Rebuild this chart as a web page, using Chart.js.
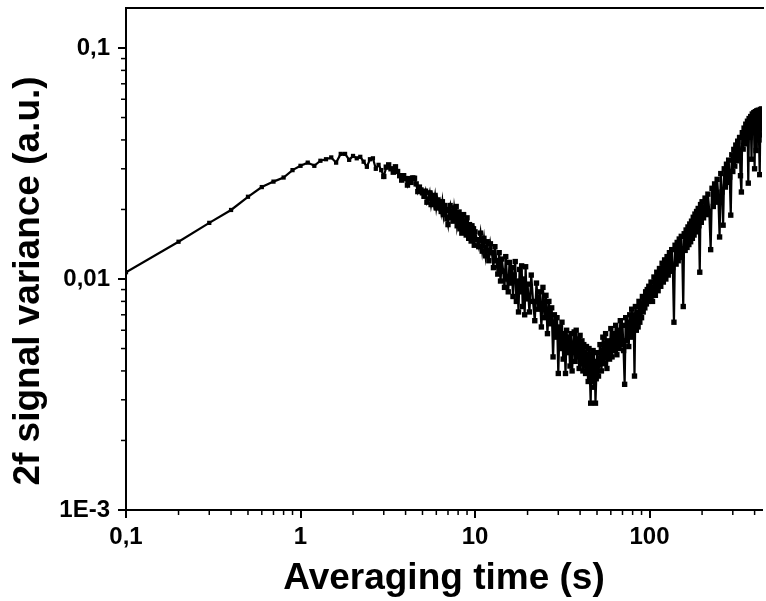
<!DOCTYPE html>
<html><head><meta charset="utf-8">
<script src="https://cdn.jsdelivr.net/npm/chart.js@4.4.1/dist/chart.umd.min.js"></script>
<style>html,body{margin:0;padding:0;background:#fff;overflow:hidden}#wrap{width:766px;height:601px;position:relative}</style>
</head><body><div id="wrap"><canvas id="c"></canvas></div>
<script>
const timeS = [
  0.1,0.2,0.3,0.4,0.5,0.6,0.7,0.8,0.9,1.0,1.1,1.2,1.3,1.4,1.5,1.6,1.7,1.8,1.9,2.0,
  2.1,2.2,2.3,2.4,2.5,2.6,2.7,2.8,2.9,3.0,3.1,3.2,3.3,3.4,3.5,3.6,3.7,3.8,3.9,4.0,
  4.1,4.2,4.3,4.4,4.5,4.6,4.7,4.8,4.9,5.0,
  5.1,5.2,5.3,5.4,5.5,5.6,5.7,5.8,5.9,6.0,6.1,6.2,6.3,6.4,6.5,6.6,6.7,6.8,6.9,7.0,
  7.1,7.2,7.3,7.4,7.5,7.6,7.7,7.8,7.9,8.0,8.1,8.2,8.3,8.4,8.5,8.6,8.7,8.8,8.9,9.0,
  9.1,9.2,9.3,9.4,9.5,9.6,9.7,9.8,9.9,10.0,
  10.25,10.5,10.75,11,11.25,11.5,11.75,12,12.25,12.5,12.75,13,13.25,13.5,13.75,14,
  14.25,14.5,14.75,15,15.25,15.5,15.75,16,16.25,16.5,16.75,17,17.25,17.5,17.75,18,
  18.25,18.5,18.75,19,19.25,19.5,19.75,20,
  20.5,21,21.5,22,22.5,23,23.5,24,24.5,25,25.5,26,26.5,27,27.5,28,28.5,29,29.5,30,
  30.5,31,31.5,32,32.5,33,33.5,34,34.5,35,35.5,36,36.5,37,37.5,38,38.5,39,39.5,40,
  40.5,41,41.5,42,42.5,43,43.5,44,44.5,45,45.5,46,46.5,47,47.5,48,48.5,49,49.5,50,
  51,52,53,54,55,56,57,58,59,60,61,62,63,64,65,66,67,68,69,70,
  71,72,73,74,75,76,77,78,79,80,81,82,83,84,85,86,87,88,89,90,
  91,92,93,94,95,96,97,98,99,100,
  102,104,106,108,110,112,114,116,118,120,122,124,126,128,130,132,134,136,138,140,
  142,144,146,148,150,152,154,156,158,160,162,164,166,168,170,172,174,176,178,180,
  182,184,186,188,190,192,194,196,198,200,
  204,208,212,216,220,224,228,232,236,240,244,248,252,256,260,264,268,272,276,280,
  284,288,292,296,300,304,308,312,316,320,324,328,332,336,340,344,348,352,356,360,
  364,368,372,376,380,384,388,392,396,400,404,408,412,416,420,424,428,432,436,440,
  444
];
const variance = [
  0.0107,0.0145,0.0175,0.0199,0.0227,0.0250,0.0264,0.0275,0.0296,0.0309,0.0319,0.0309,0.0325,0.0330,0.0336,0.0319,0.0348,0.0348,0.0328,0.0341,
  0.0333,0.0338,0.0322,0.0306,0.0330,0.0333,0.0300,0.0312,0.0296,0.0278,0.0305,0.0312,0.0300,0.0290,0.0306,0.0292,0.0280,0.0268,0.0280,0.0272,
  0.0255,0.0272,0.0262,0.0274,0.0273,0.0258,0.0239,0.0250,0.0243,0.0236,
  0.0228,0.0240,0.0215,0.0222,0.0236,0.0210,0.0228,0.0212,0.0230,0.0203,0.0220,0.0205,0.0215,0.0196,0.0216,0.0190,0.0208,0.0198,0.0182,0.0172,
  0.0200,0.0208,0.0185,0.0195,0.0178,0.0203,0.0188,0.0206,0.0170,0.0180,0.0195,0.0165,0.0185,0.0158,0.0176,0.0190,0.0162,0.0178,0.0155,0.0184,
  0.0168,0.0150,0.0172,0.0160,0.0146,0.0170,0.0152,0.0165,0.0140,0.0160,
  0.0148,0.0138,0.0158,0.0132,0.0150,0.0126,0.0145,0.0120,0.0142,0.0130,0.0112,0.0138,0.0120,0.0105,0.0130,0.0098,
  0.0122,0.0108,0.0092,0.0125,0.0100,0.0088,0.0118,0.0096,0.0112,0.0084,0.0104,0.0119,0.0080,0.0098,0.0072,0.0110,
  0.0088,0.0114,0.0076,0.0100,0.0070,0.0113,0.0082,0.0095,
  0.0072,0.0104,0.0080,0.0066,0.0096,0.0074,0.0088,0.0062,0.0092,0.0068,0.0085,0.0058,0.0080,0.0064,0.0075,0.0046,0.0070,0.0056,0.0068,0.0039,
  0.0062,0.0050,0.0065,0.0045,0.0058,0.0039,0.0060,0.0048,0.0056,0.0042,0.0058,0.0040,0.0052,0.0059,0.0044,0.0060,0.0046,0.0055,0.0041,0.0057,
  0.0043,0.0054,0.0040,0.0052,0.0045,0.0039,0.0051,0.0042,0.0036,0.0050,0.0038,0.0029,0.0047,0.0036,0.0049,0.0034,0.0044,0.0029,0.0037,0.0048,
  0.0038,0.0052,0.0040,0.0056,0.0043,0.0058,0.0041,0.0054,0.0045,0.0061,0.0046,0.0058,0.0049,0.0063,0.0047,0.0060,0.0050,0.0066,0.0052,0.0063,
  0.0049,0.0035,0.0068,0.0054,0.0065,0.0051,0.0070,0.0056,0.0074,0.0058,0.0070,0.0038,0.0076,0.0060,0.0072,0.0062,0.0080,0.0065,0.0078,0.0068,
  0.0084,0.0072,0.0082,0.0075,0.0088,0.0078,0.0090,0.0080,0.0093,0.0084,
  0.0097,0.0080,0.0102,0.0085,0.0107,0.0089,0.0111,0.0093,0.0117,0.0097,0.0121,0.0100,0.0125,0.0104,0.0130,0.0108,0.0134,0.0112,0.0065,0.0140,
  0.0116,0.0144,0.0120,0.0149,0.0124,0.0153,0.0128,0.0076,0.0157,0.0133,0.0163,0.0137,0.0168,0.0141,0.0173,0.0145,0.0178,0.0150,0.0185,0.0155,
  0.0191,0.0160,0.0196,0.0165,0.0202,0.0170,0.0107,0.0210,0.0176,0.0216,
  0.0184,0.0224,0.0190,0.0233,0.0196,0.0134,0.0247,0.0206,0.0258,0.0215,0.0270,0.0225,0.0152,0.0286,0.0238,0.0171,0.0300,0.0250,0.0314,0.0262,
  0.0327,0.0276,0.0189,0.0345,0.0292,0.0364,0.0308,0.0380,0.0325,0.0395,0.0340,0.0410,0.0280,0.0238,0.0430,0.0365,0.0450,0.0385,0.0468,0.0400,
  0.0482,0.0260,0.0495,0.0410,0.0505,0.0330,0.0518,0.0430,0.0525,0.0300,0.0530,0.0360,0.0535,0.0440,0.0538,0.0400,0.0283,0.0542,0.0460,0.0545,
  0.0420
];
const xTickValues = [0.1, 1, 10, 100];
const xTickLabels = ['0,1', '1', '10', '100'];
const yTickValues = [0.001, 0.01, 0.1];
const yTickLabels = ['1E-3', '0,01', '0,1'];
const xTitle = 'Averaging time (s)';
const yTitle = '2f signal variance (a.u.)';

const FAMILY = '"Liberation Sans", Arial, Helvetica, sans-serif';
const n = Math.min(timeS.length, variance.length);
const points = [];
for (let i = 0; i < n; i++) points.push({x: timeS[i], y: variance[i]});

function minorValues(lo, hi) {
  const out = [];
  for (let e = Math.floor(Math.log10(lo)); e <= Math.ceil(Math.log10(hi)); e++) {
    for (let m = 2; m <= 9; m++) {
      const v = m * Math.pow(10, e);
      if (v > lo && v < hi) out.push(v);
    }
  }
  return out;
}

const framePlugin = {
  id: 'frame',
  afterDraw(chart) {
    const {ctx, chartArea: a, scales: {x, y}} = chart;
    ctx.save();
    ctx.strokeStyle = '#000';
    ctx.lineWidth = 2;
    ctx.beginPath(); ctx.moveTo(a.left, a.top); ctx.lineTo(a.right + 2, a.top); ctx.stroke();
    ctx.lineWidth = 1.5;
    for (const v of minorValues(x.min, x.max)) {
      const p = x.getPixelForValue(v);
      ctx.beginPath(); ctx.moveTo(p, a.bottom); ctx.lineTo(p, a.bottom + 5); ctx.stroke();
    }
    for (const v of minorValues(y.min, y.max)) {
      const p = y.getPixelForValue(v);
      ctx.beginPath(); ctx.moveTo(a.left, p); ctx.lineTo(a.left - 5, p); ctx.stroke();
    }
    ctx.font = 'bold 37px ' + FAMILY;
    ctx.fillStyle = '#000';
    ctx.textAlign = 'center';
    ctx.textBaseline = 'middle';
    ctx.translate(29, 281);
    ctx.rotate(-Math.PI / 2);
    ctx.fillText(yTitle, 0, 0);
    ctx.restore();
  }
};

new Chart(document.getElementById('c'), {
  type: 'line',
  data: {
    datasets: [{
      data: points,
      borderColor: '#000',
      borderWidth: 2.2,
      backgroundColor: '#000',
      pointStyle: 'rect',
      pointRadius: c => (c.raw && c.raw.x < 3 ? 3 : 3.8),
      pointBorderWidth: 0,
      pointBackgroundColor: '#000',
      tension: 0
    }]
  },
  options: {
    responsive: true,
    maintainAspectRatio: false,
    animation: false,
    layout: {padding: {top: 8, right: 0, bottom: 0, left: 0}},
    plugins: {legend: {display: false}, tooltip: {enabled: false}},
    scales: {
      x: {
        type: 'logarithmic', position: 'bottom', min: 0.1, max: 441, bounds: 'data',
        afterBuildTicks(s) { s.ticks = xTickValues.map(v => ({value: v})); },
        afterFit(s) { s.height = 91; s.paddingLeft = 0; s.paddingRight = 0; },
        ticks: {
          autoSkip: false, maxRotation: 0, minRotation: 0, padding: 5, color: '#000',
          font: {family: FAMILY, size: 24, weight: 'bold'},
          callback: (v, i) => xTickLabels[i]
        },
        grid: {drawOnChartArea: false, drawTicks: true, tickLength: 8, color: '#000', lineWidth: 2},
        border: {display: true, color: '#000', width: 2},
        title: {display: true, text: xTitle, color: '#000', font: {family: FAMILY, size: 37, weight: 'bold'}, padding: {top: 0, bottom: 0}}
      },
      y: {
        type: 'logarithmic', position: 'left', min: 0.001, max: 0.149, bounds: 'data',
        afterBuildTicks(s) { s.ticks = yTickValues.map(v => ({value: v})); },
        afterFit(s) { s.width = 126; s.paddingTop = 0; s.paddingBottom = 0; },
        ticks: {
          autoSkip: false, padding: 8, color: '#000',
          font: {family: FAMILY, size: 24, weight: 'bold'},
          callback: (v, i) => yTickLabels[i]
        },
        grid: {drawOnChartArea: false, drawTicks: true, tickLength: 8, color: '#000', lineWidth: 2},
        border: {display: true, color: '#000', width: 2}
      }
    }
  },
  plugins: [framePlugin]
});
</script>
</body></html>
